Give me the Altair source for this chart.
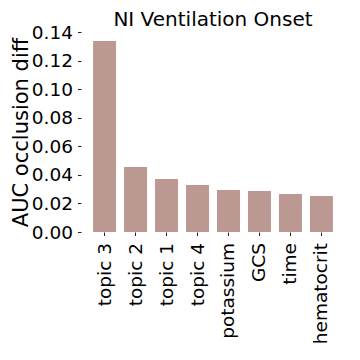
import altair as alt
import pandas as pd

features = ["topic 3", "topic 2", "topic 1", "topic 4", "potassium", "GCS", "time", "hematocrit"]
values = [0.1337, 0.0455, 0.0371, 0.0329, 0.0294, 0.0287, 0.0266, 0.0252]

df = pd.DataFrame({"feature": features, "value": values})

FONT = "DejaVu Sans"

chart = alt.Chart(df).mark_bar(color="#bb9992").encode(
    x=alt.X("feature:N", sort=features, title=None,
            scale=alt.Scale(paddingInner=0.258, paddingOuter=0.39),
            axis=alt.Axis(labelAngle=270, labelFontSize=18.5, labelFont=FONT, labelColor="#000",
                          tickColor="#222", tickSize=3.5, domain=False, labelPadding=7,
                          labelAlign="right", labelBaseline="middle")),
    y=alt.Y("value:Q", title="AUC occlusion diff",
            scale=alt.Scale(domain=[0, 0.14], nice=False),
            axis=alt.Axis(values=[0, 0.02, 0.04, 0.06, 0.08, 0.10, 0.12, 0.14], format=".2f",
                          labelFontSize=18.5, labelFont=FONT, labelColor="#000",
                          titleFontSize=21, titleFont=FONT, titleFontWeight="normal", titleColor="#000",
                          tickColor="#222", tickSize=3.5, domain=False, grid=False, labelPadding=5,
                          titlePadding=0)),
).properties(
    width=264, height=200,
    title=alt.TitleParams("NI Ventilation Onset", fontSize=20, font=FONT, fontWeight="normal",
                          color="#000", offset=-7),
    autosize=alt.AutoSizeParams(type="none"),
    padding={"left": 73, "top": 24, "right": 7, "bottom": 120},
).configure_view(stroke=None)

chart.save("out.html", embed_options={"renderer": "svg", "actions": False})
